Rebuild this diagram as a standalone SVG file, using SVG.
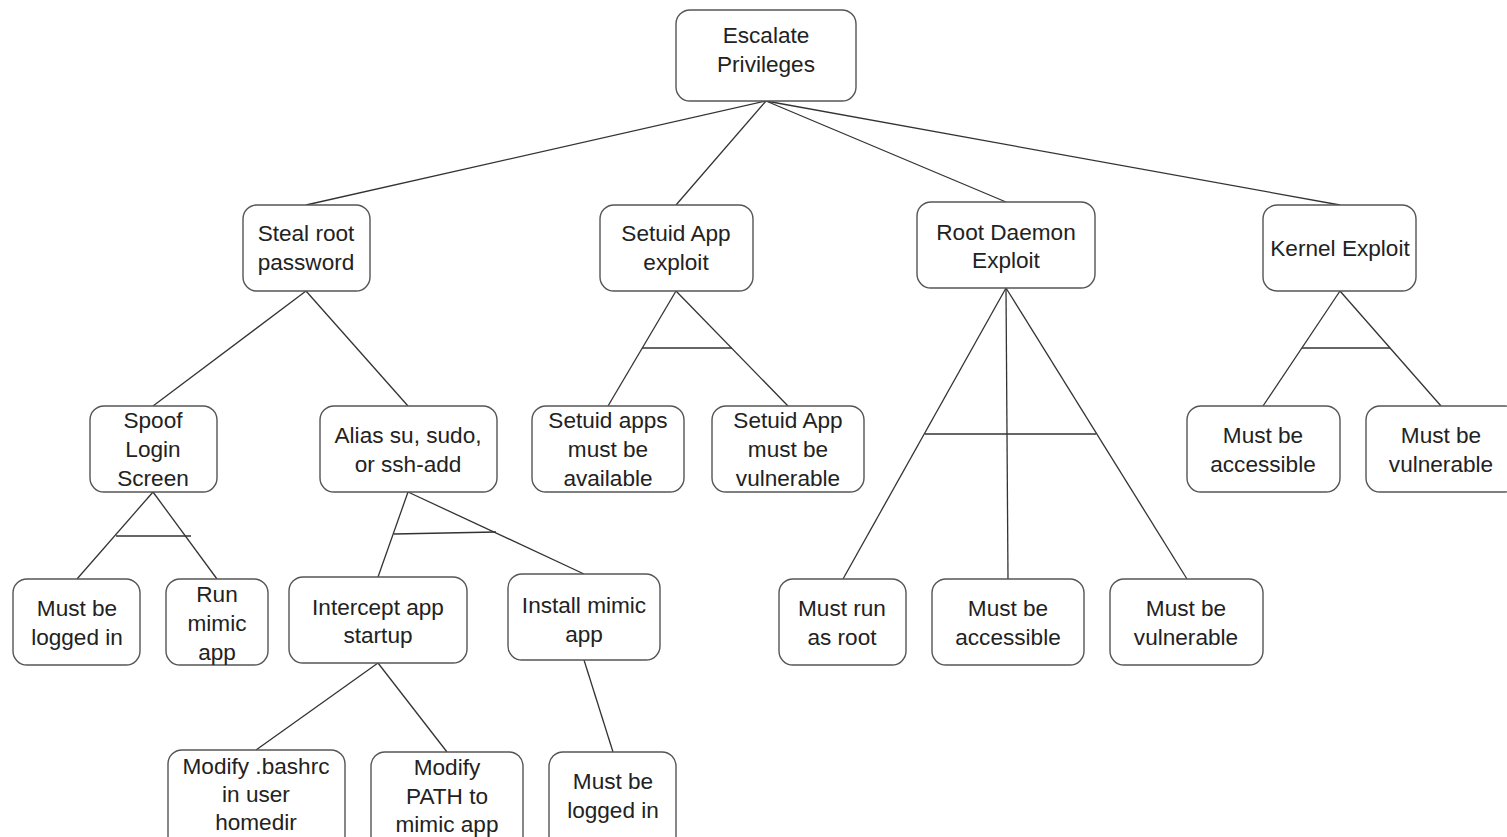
<svg xmlns="http://www.w3.org/2000/svg" width="1507" height="837" viewBox="0 0 1507 837">
<style>
.n rect{fill:#fff;stroke:#555;stroke-width:1.4}
.n text{font-family:"Liberation Sans",Arial,sans-serif;font-size:22.6px;fill:#222;text-anchor:middle;dominant-baseline:central}
#edges line{stroke:#333;stroke-width:1.3}
</style>
<rect width="1507" height="837" fill="#fff"/>
<g id="edges">
<line x1="766" y1="101" x2="306" y2="205"/>
<line x1="766" y1="101" x2="676" y2="205"/>
<line x1="766" y1="101" x2="1006" y2="202"/>
<line x1="766" y1="101" x2="1340" y2="205"/>
<line x1="306" y1="291" x2="153" y2="406"/>
<line x1="306" y1="291" x2="408" y2="406"/>
<line x1="676" y1="291" x2="608" y2="406"/>
<line x1="676" y1="291" x2="788" y2="406"/>
<line x1="642" y1="348" x2="732" y2="348"/>
<line x1="1006" y1="288" x2="843" y2="579"/>
<line x1="1006" y1="288" x2="1008" y2="579"/>
<line x1="1006" y1="288" x2="1187" y2="579"/>
<line x1="925" y1="434" x2="1096" y2="434"/>
<line x1="1340" y1="291" x2="1263" y2="406"/>
<line x1="1340" y1="291" x2="1441" y2="406"/>
<line x1="1302" y1="348" x2="1390" y2="348"/>
<line x1="153" y1="492" x2="77" y2="579"/>
<line x1="153" y1="492" x2="217" y2="579"/>
<line x1="116" y1="536" x2="191" y2="536"/>
<line x1="408" y1="492" x2="378" y2="577"/>
<line x1="408" y1="492" x2="584" y2="574"/>
<line x1="394" y1="534" x2="496" y2="532"/>
<line x1="378" y1="663" x2="256" y2="750"/>
<line x1="378" y1="663" x2="447" y2="752"/>
<line x1="584" y1="660" x2="613" y2="752"/>
</g>
<g id="n-root" class="n"><rect x="676" y="10" width="180" height="91" rx="14"/><text x="766" y="35">Escalate</text><text x="766" y="64">Privileges</text></g>
<g id="n-steal" class="n"><rect x="243" y="205" width="127" height="86" rx="14"/><text x="306" y="233">Steal root</text><text x="306" y="262">password</text></g>
<g id="n-setuid" class="n"><rect x="600" y="205" width="153" height="86" rx="14"/><text x="676" y="233">Setuid App</text><text x="676" y="262">exploit</text></g>
<g id="n-daemon" class="n"><rect x="917" y="202" width="178" height="86" rx="14"/><text x="1006" y="232">Root Daemon</text><text x="1006" y="260">Exploit</text></g>
<g id="n-kernel" class="n"><rect x="1263" y="205" width="153" height="86" rx="14"/><text x="1340" y="248">Kernel Exploit</text></g>
<g id="n-spoof" class="n"><rect x="90" y="406" width="127" height="86" rx="14"/><text x="153" y="420">Spoof</text><text x="153" y="449">Login</text><text x="153" y="478">Screen</text></g>
<g id="n-alias" class="n"><rect x="320" y="406" width="177" height="86" rx="14"/><text x="408" y="435">Alias su, sudo,</text><text x="408" y="464">or ssh-add</text></g>
<g id="n-sa-avail" class="n"><rect x="532" y="406" width="152" height="86" rx="14"/><text x="608" y="420">Setuid apps</text><text x="608" y="449">must be</text><text x="608" y="478">available</text></g>
<g id="n-sa-vuln" class="n"><rect x="712" y="406" width="152" height="86" rx="14"/><text x="788" y="420">Setuid App</text><text x="788" y="449">must be</text><text x="788" y="478">vulnerable</text></g>
<g id="n-k-acc" class="n"><rect x="1187" y="406" width="153" height="86" rx="14"/><text x="1263" y="435">Must be</text><text x="1263" y="464">accessible</text></g>
<g id="n-k-vuln" class="n"><rect x="1366" y="406" width="153" height="86" rx="14"/><text x="1441" y="435">Must be</text><text x="1441" y="464">vulnerable</text></g>
<g id="n-s-login" class="n"><rect x="13" y="579" width="127" height="86" rx="14"/><text x="77" y="608">Must be</text><text x="77" y="637">logged in</text></g>
<g id="n-run-mimic" class="n"><rect x="166" y="579" width="102" height="86" rx="14"/><text x="217" y="594">Run</text><text x="217" y="623">mimic</text><text x="217" y="652">app</text></g>
<g id="n-intercept" class="n"><rect x="289" y="577" width="178" height="86" rx="14"/><text x="378" y="607">Intercept app</text><text x="378" y="635">startup</text></g>
<g id="n-install" class="n"><rect x="508" y="574" width="152" height="86" rx="14"/><text x="584" y="605">Install mimic</text><text x="584" y="634">app</text></g>
<g id="n-d-root" class="n"><rect x="779" y="579" width="127" height="86" rx="14"/><text x="842" y="608">Must run</text><text x="842" y="637">as root</text></g>
<g id="n-d-acc" class="n"><rect x="932" y="579" width="152" height="86" rx="14"/><text x="1008" y="608">Must be</text><text x="1008" y="637">accessible</text></g>
<g id="n-d-vuln" class="n"><rect x="1110" y="579" width="153" height="86" rx="14"/><text x="1186" y="608">Must be</text><text x="1186" y="637">vulnerable</text></g>
<g id="n-bashrc" class="n"><rect x="168" y="750" width="177" height="100" rx="14"/><text x="256" y="766">Modify .bashrc</text><text x="256" y="794">in user</text><text x="256" y="822">homedir</text></g>
<g id="n-path" class="n"><rect x="371" y="752" width="152" height="100" rx="14"/><text x="447" y="767">Modify</text><text x="447" y="796">PATH to</text><text x="447" y="824">mimic app</text></g>
<g id="n-i-login" class="n"><rect x="549" y="752" width="127" height="100" rx="14"/><text x="613" y="781">Must be</text><text x="613" y="810">logged in</text></g>
</svg>
